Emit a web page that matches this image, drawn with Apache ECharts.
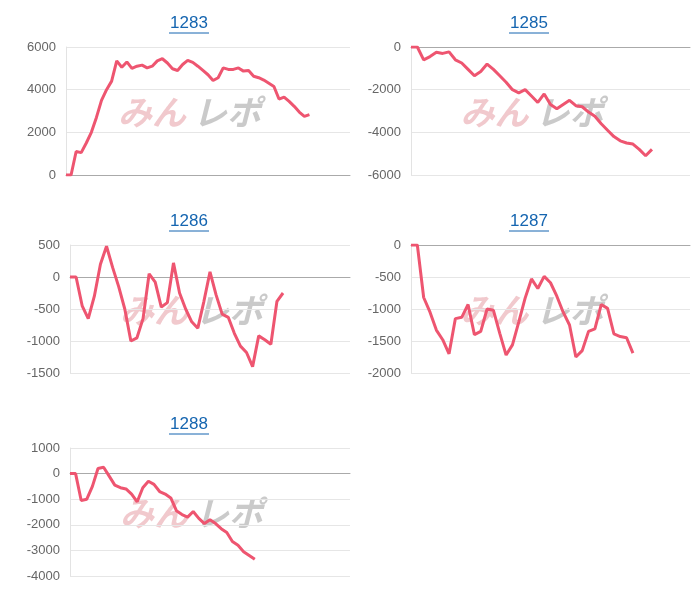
<!DOCTYPE html>
<html>
<head>
<meta charset="utf-8">
<script src="https://cdn.jsdelivr.net/npm/echarts@6/dist/echarts.min.js"></script>
<style>
  body { margin: 0; background: #fff; }
  #main { width: 700px; height: 600px; }
</style>
</head>
<body>
<div id="main"></div>
<script>
// chart titles (machine numbers)
var titles = ["1283", "1285", "1286", "1287", "1288"];

// values per machine
var data1283 = [0, 0, 1100, 1050, 1500, 2000, 2700, 3500, 4000, 4400, 5350, 5050, 5300, 5000, 5100, 5150, 5020, 5100, 5350, 5450, 5250, 4980, 4900, 5180, 5370, 5280, 5100, 4900, 4700, 4430, 4560, 5020, 4950, 4950, 5020, 4870, 4900, 4630, 4560, 4450, 4300, 4150, 3560, 3650, 3450, 3220, 2950, 2750, 2830];
var data1285 = [0, 0, -600, -450, -250, -300, -230, -600, -750, -1050, -1350, -1150, -800, -1050, -1350, -1650, -2000, -2150, -2000, -2300, -2600, -2200, -2700, -2900, -2700, -2500, -2750, -2800, -3050, -3250, -3600, -3900, -4200, -4400, -4500, -4550, -4800, -5100, -4800];
var data1286 = [0, 0, -450, -650, -300, 200, 480, 150, -150, -500, -1000, -950, -650, 50, -80, -470, -400, 220, -250, -500, -700, -800, -380, 80, -280, -580, -630, -880, -1080, -1180, -1400, -920, -980, -1050, -380, -250];
var data1287 = [0, 0, -820, -1050, -1330, -1480, -1700, -1150, -1130, -930, -1400, -1350, -1000, -1020, -1380, -1720, -1560, -1200, -830, -530, -680, -490, -590, -800, -1050, -1250, -1750, -1650, -1350, -1310, -930, -990, -1390, -1430, -1450, -1690];
var data1288 = [0, 0, -1050, -1000, -500, 200, 250, -100, -450, -550, -600, -800, -1100, -550, -300, -420, -700, -800, -950, -1450, -1600, -1700, -1480, -1750, -1950, -1800, -1950, -2150, -2300, -2650, -2800, -3050, -3200, -3350];

var seriesData = [data1283, data1285, data1286, data1287, data1288];
// total slots on each x axis (data fills only part of it)
var slotCounts = [57, 45, 47, 45, 51];
var yMins = [0, -6000, -1500, -2000, -4000];
var yMaxs = [6000, 0, 500, 0, 1000];
var yIntervals = [2000, 2000, 500, 500, 1000];

var grids = [
  { left: 66, right: 350, top: 47, bottom: 175 },
  { left: 411, right: 690, top: 47, bottom: 175 },
  { left: 70, right: 350, top: 245, bottom: 373 },
  { left: 411, right: 690, top: 245, bottom: 373 },
  { left: 70, right: 350, top: 448, bottom: 576 }
];
var titleCenters = [189, 529, 189, 529, 189];

var chart = echarts.init(document.getElementById("main"));
var option = {
  animation: false,
  grid: [], xAxis: [], yAxis: [], series: [], graphic: []
};

grids.forEach(function (g, i) {
  option.grid.push({ left: g.left, top: g.top, width: g.right - g.left, height: g.bottom - g.top });
  option.graphic.push({
    type: "text", x: titleCenters[i], y: g.top - 15,
    style: { text: titles[i], fill: "#1565b0", fontSize: 17, fontFamily: "Arial", align: "center", verticalAlign: "bottom" }
  });
  option.graphic.push({
    type: "line", shape: { x1: titleCenters[i] - 20, y1: g.top - 14, x2: titleCenters[i] + 20, y2: g.top - 14 },
    style: { stroke: "#1565b0", lineWidth: 1 }
  });
  // watermark
  var cx = (g.left + g.right) / 2 - 10, cy = (g.top + g.bottom) / 2 + 2;
  option.graphic.push({
    type: "text", left: cx - 80, top: cy - 18, z: 0,
    style: { text: "みん", fontSize: 34, fontWeight: "bold", fontStyle: "italic", fill: "rgba(220,120,130,0.4)", fontFamily: "Noto Sans CJK JP" }
  });
  option.graphic.push({
    type: "text", left: cx - 5, top: cy - 18, z: 0,
    style: { text: "レポ", fontSize: 34, fontWeight: "bold", fontStyle: "italic", fill: "rgba(150,150,150,0.5)", fontFamily: "Noto Sans CJK JP" }
  });
  var cats = [];
  for (var k = 0; k < slotCounts[i]; k++) cats.push(String(k + 1));
  option.xAxis.push({
    type: "category", gridIndex: i, data: cats, boundaryGap: false,
    axisLine: { onZero: true, lineStyle: { color: "#aaa" } },
    axisTick: { show: false }, axisLabel: { show: false }
  });
  option.yAxis.push({
    type: "value", gridIndex: i, min: yMins[i], max: yMaxs[i], interval: yIntervals[i],
    axisLine: { show: true, lineStyle: { color: "#e3e3e3" } }, axisTick: { show: false },
    axisLabel: { color: "#666", fontSize: 13, fontFamily: "Arial", margin: 10,
      formatter: function (v) { return String(v); } },
    splitLine: { lineStyle: { color: "#e6e6e6" } }
  });
  option.series.push({
    type: "line", xAxisIndex: i, yAxisIndex: i, data: seriesData[i], symbol: "none",
    lineStyle: { color: "#ee5570", width: 3 }, z: 3
  });
});

chart.setOption(option);
</script>
</body>
</html>
